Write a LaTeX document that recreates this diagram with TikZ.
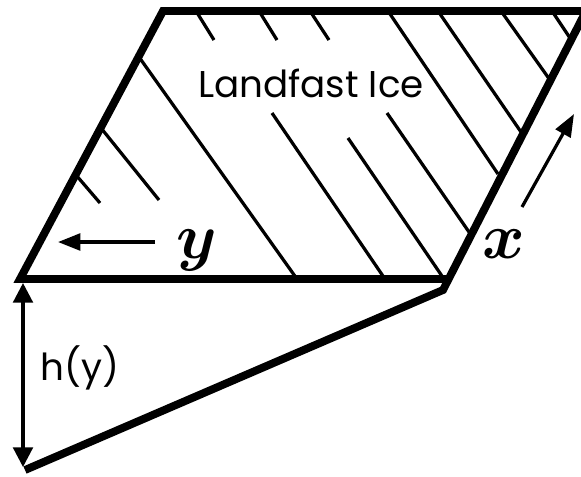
\RequirePackage{fix-cm}
\documentclass[tikz,border=0pt]{standalone}
\usepackage{amsmath, amssymb}
\usepackage{fontspec}
\setmainfont{Poppins}
\usepackage{tikz}
\usetikzlibrary{arrows.meta}

\tikzset{
  border/.style={line width=5.6pt, line join=miter},
  hatch/.style={line width=2.3pt},
  arrowline/.style={line width=2.3pt, -{Triangle[length=16pt,width=12pt]}},
  harrow/.style={line width=2.3pt, {Triangle[length=14pt,width=14pt]}-{Triangle[length=14pt,width=14pt]}}
}

\begin{document}
\begin{tikzpicture}[x=0.025cm, y=-0.025cm]
\useasboundingbox (0,0) rectangle (581,476);

% Corners
\coordinate (tl) at (163,11);
\coordinate (tr) at (586,11);
\coordinate (bl) at (20,279);
\coordinate (br) at (449,279);
\coordinate (kink) at (443,290);
\coordinate (bot) at (25,470);

% Hatching
\draw[hatch] (196,11) -- (214,40);
\draw[hatch] (259,11) -- (277,40);
\draw[hatch] (310,11) -- (329,40);
\draw[hatch] (388,11) -- (498,174);
\draw[hatch] (438,11) -- (521,132);
\draw[hatch] (501,11) -- (550,80);
\draw[hatch] (552,11) -- (570,38);
\draw[hatch] (139,57) -- (297,279);
\draw[hatch] (101,128) -- (159,200);
\draw[hatch] (76,175) -- (100,203);
\draw[hatch] (272,113) -- (385,279);
\draw[hatch] (348,138) -- (444,279);
\draw[hatch] (387,113) -- (469,232);

% Edges
\draw[border] (br) -- (bl) -- (tl) -- (tr) -- (kink) -- (bot);

% Arrows
\coordinate (ytail) at (155,242);
\coordinate (yhead) at (58,242);
\draw[arrowline] (ytail) -- (yhead);
\coordinate (xtail) at (522,207);
\coordinate (xhead) at (574,114);
\draw[arrowline] (xtail) -- (xhead);
\coordinate (htop) at (23,283);
\coordinate (hbot) at (23,467);
\draw[harrow] (htop) -- (hbot);

% Labels
\node[anchor=base] (ice) at (311,97) {\fontsize{26.5}{26.5}\selectfont Landfast Ice};
\node[anchor=base west, inner sep=0pt] (hy) at (40,380) {\fontsize{26.5}{26.5}\selectfont h(y)};
\node[anchor=base] (ylab) at (197,258) {\fontsize{46}{46}\selectfont $\boldsymbol{y}$};
\node[anchor=base] (xlab) at (504,258) {\fontsize{46}{46}\selectfont $\boldsymbol{x}$};
\end{tikzpicture}
\end{document}
